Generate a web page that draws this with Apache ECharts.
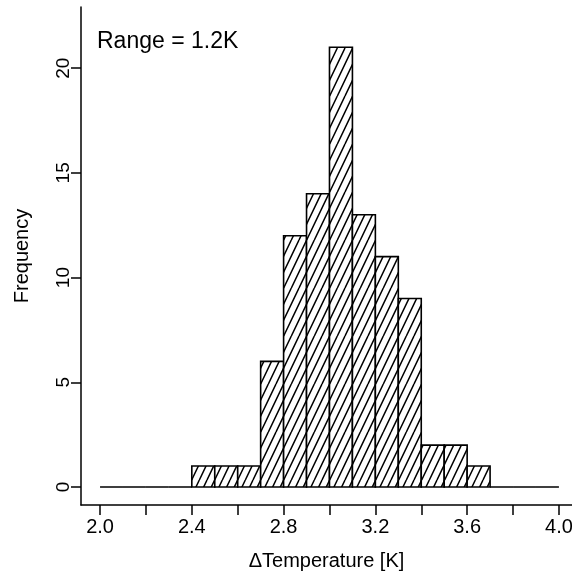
<!DOCTYPE html>
<html>
<head>
<meta charset="utf-8">
<script src="https://cdn.jsdelivr.net/npm/echarts@6/dist/echarts.min.js"></script>
<style>
  html, body { margin: 0; padding: 0; background: #fff; }
  #main { width: 572px; height: 577px; }
</style>
</head>
<body>
<div id="main"></div>
<script>
// histogram bins (left edge, right edge) and counts
var binStart = [2.0, 2.1, 2.2, 2.3, 2.4, 2.5, 2.6, 2.7, 2.8, 2.9, 3.0, 3.1, 3.2, 3.3, 3.4, 3.5, 3.6, 3.7, 3.8, 3.9];
var binEnd   = [2.1, 2.2, 2.3, 2.4, 2.5, 2.6, 2.7, 2.8, 2.9, 3.0, 3.1, 3.2, 3.3, 3.4, 3.5, 3.6, 3.7, 3.8, 3.9, 4.0];
var counts   = [0, 0, 0, 0, 1, 1, 1, 6, 12, 14, 21, 13, 11, 9, 2, 2, 1, 0, 0, 0];
var xTicks = [2.0, 2.2, 2.4, 2.6, 2.8, 3.0, 3.2, 3.4, 3.6, 3.8, 4.0];
var xLabels = [2.0, 2.4, 2.8, 3.2, 3.6, 4.0];
var yTicks = [0, 5, 10, 15, 20];
var rangeText = "Range = 1.2K";

var FONT = "Liberation Sans, Arial, Helvetica, sans-serif";

// hatch pattern  ( "/" lines, about 65 deg )
function makeHatch() {
  var w = 23, h = 48;
  var c = document.createElement("canvas");
  c.width = w; c.height = h;
  var ctx = c.getContext("2d");
  ctx.fillStyle = "#fff";
  ctx.fillRect(0, 0, w, h);
  ctx.strokeStyle = "#000";
  ctx.lineWidth = 1.5;
  ctx.beginPath();
  for (var k = -3; k <= 3; k++) {
    var x0 = k * w / 3;
    ctx.moveTo(x0, h);
    ctx.lineTo(x0 + w, 0);
  }
  ctx.stroke();
  return c;
}
var hatch = { image: makeHatch(), repeat: "repeat" };

var data = [];
binStart.forEach(function (s, i) {
  data.push([s, binEnd[i], counts[i]]);
});

var chart = echarts.init(document.getElementById("main"));

var option = {
  backgroundColor: "#fff",
  animation: false,
  textStyle: { fontFamily: FONT, color: "#000" },
  grid: {
    left: 81,
    right: 0,
    top: 7,
    bottom: 72,
    containLabel: false,
    outerBoundsMode: "none"
  },
  graphic: [
    {
      type: "text",
      left: 97,
      top: 30,
      style: { text: rangeText, font: "23px " + FONT, fill: "#000" }
    }
  ],
  xAxis: {
    type: "value",
    min: 1.917,
    max: 4.057,
    name: "\u0394Temperature [K]",
    nameLocation: "middle",
    nameGap: 46,
    nameTextStyle: { fontSize: 20, color: "#000", fontFamily: FONT },
    splitLine: { show: false },
    axisLine: { show: true, onZero: false, lineStyle: { color: "#000", width: 1.5 } },
    axisTick: {
      show: true,
      inside: false,
      length: 10,
      customValues: xTicks,
      lineStyle: { color: "#000", width: 1.5 }
    },
    axisLabel: {
      customValues: xLabels,
      margin: 12,
      fontSize: 20,
      color: "#000",
      fontFamily: FONT,
      formatter: function (v) { return v.toFixed(1); }
    }
  },
  yAxis: {
    type: "value",
    min: -0.86,
    max: 22.92,
    name: "Frequency",
    nameLocation: "middle",
    nameRotate: 90,
    nameGap: 49,
    nameTextStyle: { fontSize: 20, color: "#000", fontFamily: FONT },
    splitLine: { show: false },
    axisLine: { show: true, onZero: false, lineStyle: { color: "#000", width: 1.5 } },
    axisTick: {
      show: true,
      inside: false,
      length: 10,
      customValues: yTicks,
      lineStyle: { color: "#000", width: 1.5 }
    },
    axisLabel: {
      customValues: yTicks,
      rotate: 90,
      margin: 8,
      fontSize: 19,
      color: "#000",
      fontFamily: FONT
    }
  },
  series: [
    {
      type: "custom",
      data: data,
      encode: { x: [0, 1], y: 2 },
      renderItem: function (params, api) {
        var p0 = api.coord([api.value(0), api.value(2)]);
        var p1 = api.coord([api.value(1), 0]);
        return {
          type: "rect",
          shape: { x: p0[0], y: p0[1], width: p1[0] - p0[0], height: p1[1] - p0[1] },
          style: { fill: hatch, stroke: "#000", lineWidth: 1.6 }
        };
      }
    }
  ]
};

chart.setOption(option);
</script>
</body>
</html>
